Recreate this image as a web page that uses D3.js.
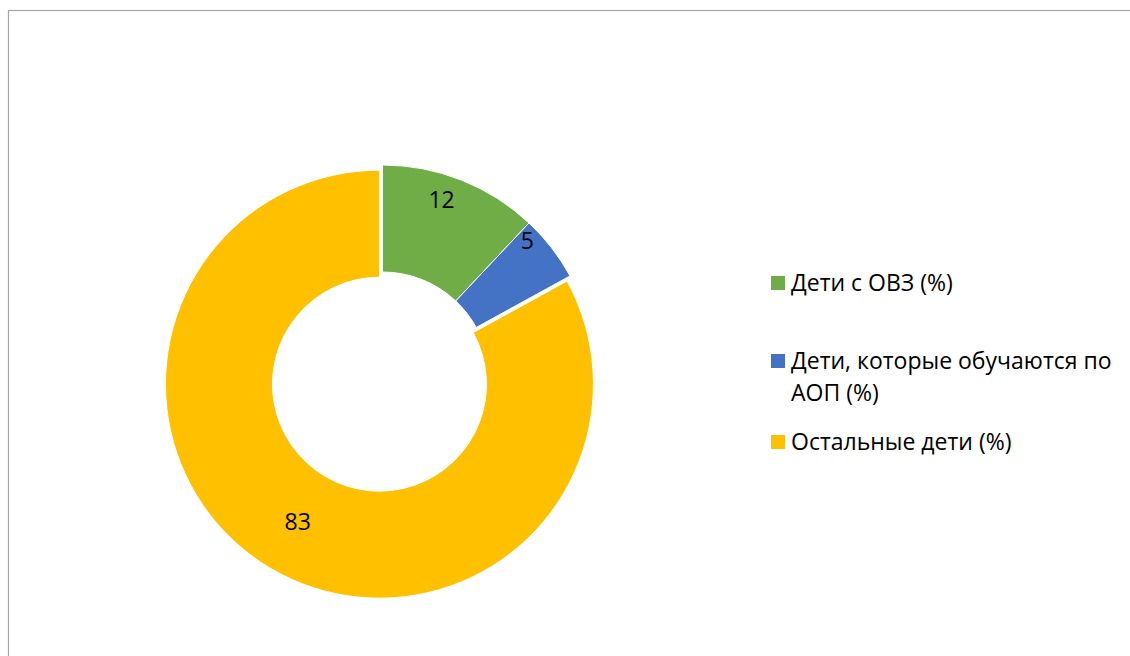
<!DOCTYPE html>
<html>
<head>
<meta charset="utf-8">
<script src="https://cdn.jsdelivr.net/npm/d3@7"></script>
<style>
  html, body { margin: 0; padding: 0; background: #fff; }
  svg text { font-family: "Open Sans", "Noto Sans", sans-serif; fill: #000; }
</style>
</head>
<body>
<svg id="chart"></svg>
<script>
const width = 1130, height = 656;

// data
const categories = ["Дети с ОВЗ (%)", "Дети, которые обучаются по АОП (%)", "Остальные дети (%)"];
const values = [12, 5, 83];
const legendLines = [["Дети с ОВЗ (%)"], ["Дети, которые обучаются по", "АОП (%)"], ["Остальные дети (%)"]];

const colors = ["#70AD47", "#4472C4", "#FFC000"];
const cx = 382.5, cy = 379;
const outerR = 214, innerR = 107;
const explode = [0, 0, 6];
// labels that were dragged by hand in the original
const labelNudge = [[0, -30], [18, -40], [0, 0]];

const svg = d3.select("#chart")
    .attr("width", width)
    .attr("height", height);

svg.append("rect")
    .attr("x", 8.5).attr("y", 10.5)
    .attr("width", 1140).attr("height", 660)
    .attr("fill", "#fff")
    .attr("stroke", "#a6a6a6")
    .attr("stroke-width", 1.2);

const color = d3.scaleOrdinal().domain(categories).range(colors);

const pie = d3.pie().sort(null).value(d => d.value);
const arcs = pie(categories.map((c, i) => ({name: c, value: values[i], i: i})));
const arc = d3.arc().innerRadius(innerR).outerRadius(outerR);

const g = svg.append("g").attr("transform", "translate(" + cx + "," + cy + ")");

function shift(d) {
    const a = (d.startAngle + d.endAngle) / 2;
    const e = explode[d.data.i];
    return [Math.sin(a) * e, -Math.cos(a) * e];
}

g.selectAll(".slice")
    .data(arcs)
    .enter().append("path")
    .attr("class", "slice")
    .attr("transform", d => "translate(" + shift(d) + ")")
    .attr("d", arc)
    .attr("fill", d => color(d.data.name))
    .attr("stroke", "#fff")
    .attr("stroke-width", 1);

g.selectAll(".lbl")
    .data(arcs)
    .enter().append("text")
    .attr("class", "lbl")
    .attr("transform", d => {
        const c = arc.centroid(d), s = shift(d), n = labelNudge[d.data.i];
        return "translate(" + (c[0] + s[0] + n[0]) + "," + (c[1] + s[1] + n[1]) + ")";
    })
    .attr("text-anchor", "middle")
    .attr("dy", "0.35em")
    .style("font-size", "23px")
    .text(d => d.data.value);

// legend
const legendY = [283, 361, 442];
const legend = svg.append("g").attr("class", "legend");
const item = legend.selectAll(".legend-item")
    .data(categories)
    .enter().append("g")
    .attr("class", "legend-item")
    .attr("transform", (d, i) => "translate(771," + legendY[i] + ")");

item.append("rect")
    .attr("x", 0).attr("y", -7)
    .attr("width", 14).attr("height", 14)
    .attr("fill", d => color(d));

item.append("text")
    .style("font-size", "23px")
    .selectAll("tspan")
    .data((d, i) => legendLines[i])
    .enter().append("tspan")
    .attr("x", 20)
    .attr("y", (d, j) => j * 32)
    .attr("dy", "0.35em")
    .text(d => d);
</script>
</body>
</html>
